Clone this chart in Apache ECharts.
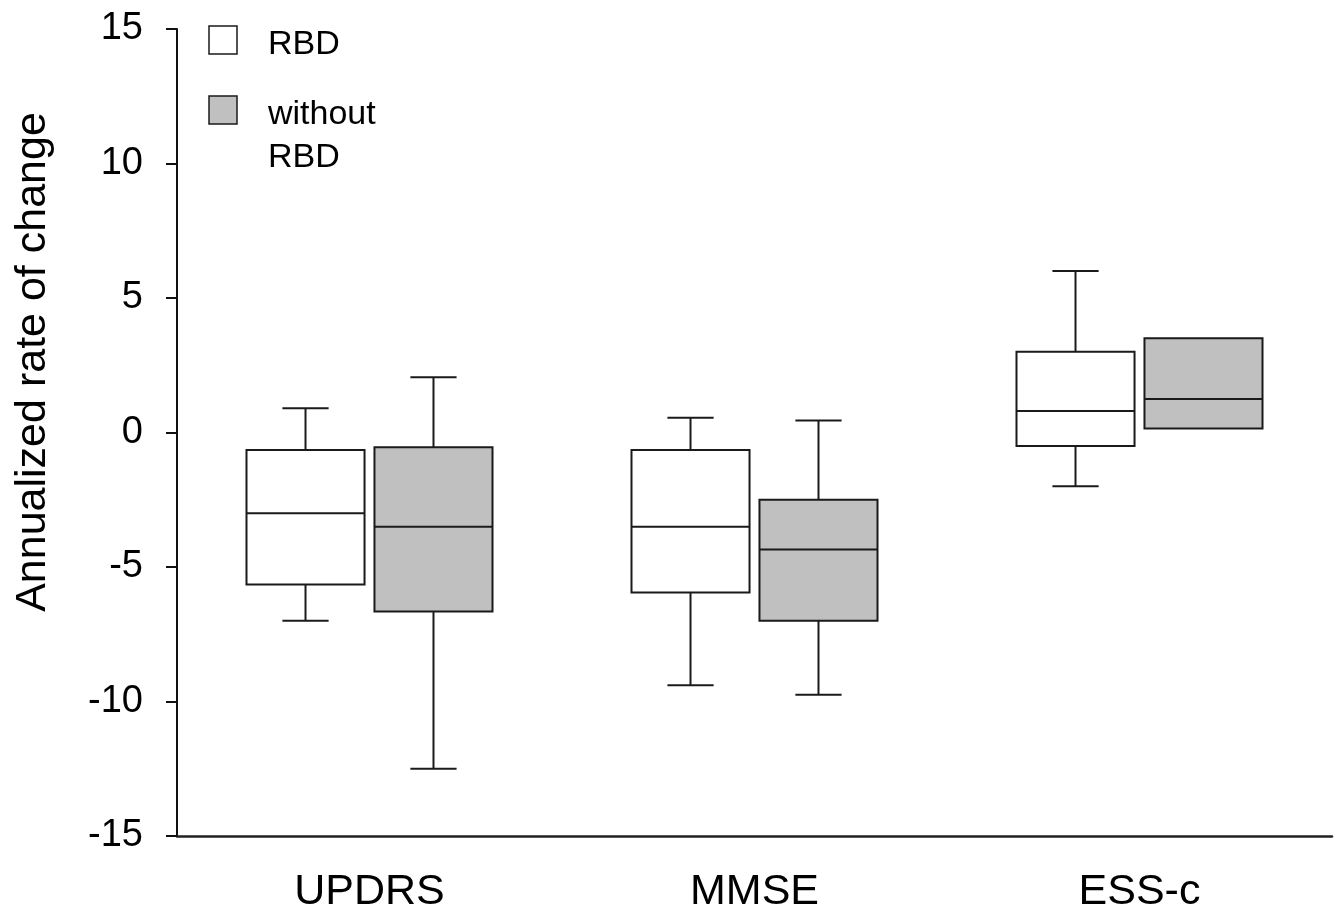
<!DOCTYPE html>
<html>
<head>
<meta charset="utf-8">
<script src="https://cdn.jsdelivr.net/npm/echarts@6/dist/echarts.min.js"></script>
<style>
html,body{margin:0;padding:0;background:#fff;}
#chart{width:1342px;height:914px;}
</style>
</head>
<body>
<div id="chart"></div>
<script>
// ---- data ----
const categories = ['UPDRS', 'MMSE', 'ESS-c'];
const yTicks = [-15, -10, -5, 0, 5, 10, 15];
const seriesNames = ['RBD', 'without RBD'];

// RBD group: [min, q1, median, q3, max] per category
const rbdMin    = [-7.0, -9.4, -2.0];
const rbdQ1     = [-5.65, -5.95, -0.5];
const rbdMedian = [-3.0, -3.5, 0.8];
const rbdQ3     = [-0.65, -0.65, 3.0];
const rbdMax    = [0.9, 0.55, 6.0];

// without RBD group
const woMin    = [-12.5, -9.75, 0.15];
const woQ1     = [-6.65, -7.0, 0.15];
const woMedian = [-3.5, -4.35, 1.25];
const woQ3     = [-0.55, -2.5, 3.5];
const woMax    = [2.05, 0.45, 3.5];

function rows(mn, q1, md, q3, mx) {
  return categories.map((c, i) => [i, mn[i], q1[i], md[i], q3[i], mx[i]]);
}

const LINE = '#1a1a1a';
const FONT = '"Liberation Sans", Arial, sans-serif';

function makeRender(offsetFrac, fill) {
  return function (params, api) {
    const xi = api.value(0);
    const band = api.size([1, 0])[0];
    const cx = api.coord([xi, 0])[0] + offsetFrac * band;
    const halfW = 0.1533 * band;
    const capHalf = 0.06 * band;
    const yMin = api.coord([xi, api.value(1)])[1];
    const yQ1 = api.coord([xi, api.value(2)])[1];
    const yMed = api.coord([xi, api.value(3)])[1];
    const yQ3 = api.coord([xi, api.value(4)])[1];
    const yMax = api.coord([xi, api.value(5)])[1];
    const ls = { stroke: LINE, lineWidth: 2 };
    const children = [];
    if (api.value(5) > api.value(4)) {
      children.push({ type: 'line', shape: { x1: cx, y1: yQ3, x2: cx, y2: yMax }, style: ls });
      children.push({ type: 'line', shape: { x1: cx - capHalf, y1: yMax, x2: cx + capHalf, y2: yMax }, style: ls });
    }
    if (api.value(1) < api.value(2)) {
      children.push({ type: 'line', shape: { x1: cx, y1: yQ1, x2: cx, y2: yMin }, style: ls });
      children.push({ type: 'line', shape: { x1: cx - capHalf, y1: yMin, x2: cx + capHalf, y2: yMin }, style: ls });
    }
    children.push({ type: 'rect', shape: { x: cx - halfW, y: yQ3, width: 2 * halfW, height: yQ1 - yQ3 },
      style: { fill: fill, stroke: LINE, lineWidth: 2 } });
    children.push({ type: 'line', shape: { x1: cx - halfW, y1: yMed, x2: cx + halfW, y2: yMed }, style: ls });
    return { type: 'group', children: children };
  };
}

const chart = echarts.init(document.getElementById('chart'), null, { renderer: 'canvas' });
chart.setOption({
  animation: false,
  backgroundColor: '#ffffff',
  grid: { left: 177, right: 10, top: 29, bottom: 77, containLabel: false },
  xAxis: {
    type: 'category',
    data: categories,
    boundaryGap: true,
    axisLine: { onZero: false, lineStyle: { color: '#222', width: 2.5 } },
    axisTick: { show: false },
    axisLabel: { color: '#000', fontFamily: FONT, fontSize: 43, margin: 35 },
    splitLine: { show: false }
  },
  yAxis: {
    type: 'value',
    min: yTicks[0], max: yTicks[yTicks.length - 1], interval: 5,
    axisLine: { show: true, lineStyle: { color: '#111', width: 2 } },
    axisTick: { show: true, length: 11, lineStyle: { color: '#111', width: 2 } },
    axisLabel: { color: '#000', fontFamily: FONT, fontSize: 38, margin: 34 },
    splitLine: { show: false }
  },
  graphic: [
    { type: 'text', x: 33, y: 362, rotation: Math.PI / 2,
      style: { text: 'Annualized rate of change', fontFamily: FONT, fontSize: 43, fill: '#000', align: 'center', verticalAlign: 'middle' } },
    { type: 'rect', shape: { x: 209, y: 26, width: 28, height: 28 }, style: { fill: '#fff', stroke: LINE, lineWidth: 1.5 } },
    { type: 'rect', shape: { x: 209, y: 96, width: 28, height: 28 }, style: { fill: '#c0c0c0', stroke: LINE, lineWidth: 1.5 } },
    { type: 'text', x: 268, y: 45, style: { text: seriesNames[0], fontFamily: FONT, fontSize: 34, fill: '#000', verticalAlign: 'middle' } },
    { type: 'text', x: 268, y: 115, style: { text: 'without', fontFamily: FONT, fontSize: 34, fill: '#000', verticalAlign: 'middle' } },
    { type: 'text', x: 268, y: 158, style: { text: 'RBD', fontFamily: FONT, fontSize: 34, fill: '#000', verticalAlign: 'middle' } }
  ],
  series: [
    { name: seriesNames[0], type: 'custom', renderItem: makeRender(-0.1662, '#ffffff'),
      encode: { x: 0, y: [1, 2, 3, 4, 5] }, data: rows(rbdMin, rbdQ1, rbdMedian, rbdQ3, rbdMax) },
    { name: seriesNames[1], type: 'custom', renderItem: makeRender(0.1662, '#c0c0c0'),
      encode: { x: 0, y: [1, 2, 3, 4, 5] }, data: rows(woMin, woQ1, woMedian, woQ3, woMax) }
  ]
});
</script>
</body>
</html>
